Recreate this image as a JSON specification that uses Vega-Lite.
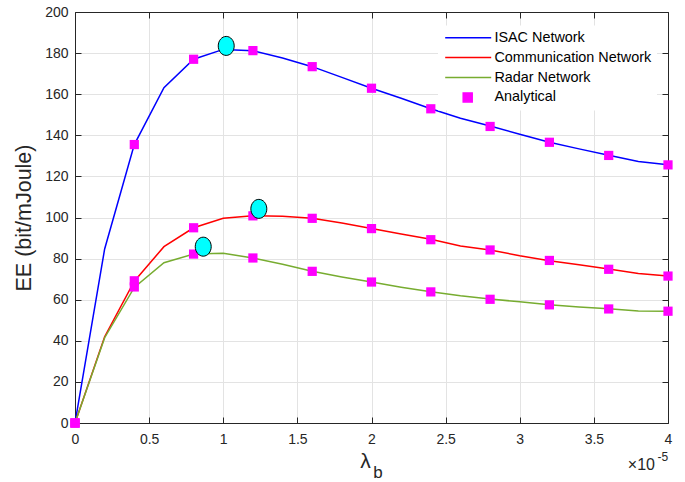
{
  "$schema": "https://vega.github.io/schema/vega-lite/v6.json",
  "width": 593,
  "height": 411,
  "autosize": "none",
  "padding": {"left": 75, "top": 12, "right": 17, "bottom": 59},
  "background": "white",
  "config": {
    "view": {"stroke": null},
    "font": "Liberation Sans",
    "axis": {
      "labelFont": "Liberation Sans",
      "titleFont": "Liberation Sans",
      "labelFontSize": 14,
      "labelColor": "#262626",
      "titleColor": "#262626",
      "domainColor": "#262626",
      "tickColor": "#262626",
      "gridColor": "#E3E3E3",
      "labelFlush": false,
      "labelFontWeight": "normal",
      "titleFontWeight": "normal"
    }
  },
  "datasets": {
    "lines": [
      {"x": 0, "y": 0, "series": "ISAC Network"},
      {"x": 0.2, "y": 84.7, "series": "ISAC Network"},
      {"x": 0.4, "y": 135.5, "series": "ISAC Network"},
      {"x": 0.6, "y": 163.2, "series": "ISAC Network"},
      {"x": 0.8, "y": 177, "series": "ISAC Network"},
      {"x": 1.0, "y": 181.8, "series": "ISAC Network"},
      {"x": 1.2, "y": 181.2, "series": "ISAC Network"},
      {"x": 1.4, "y": 177.6, "series": "ISAC Network"},
      {"x": 1.6, "y": 173.4, "series": "ISAC Network"},
      {"x": 1.8, "y": 168.2, "series": "ISAC Network"},
      {"x": 2.0, "y": 162.9, "series": "ISAC Network"},
      {"x": 2.2, "y": 158, "series": "ISAC Network"},
      {"x": 2.4, "y": 152.9, "series": "ISAC Network"},
      {"x": 2.6, "y": 148.3, "series": "ISAC Network"},
      {"x": 2.8, "y": 144.5, "series": "ISAC Network"},
      {"x": 3.0, "y": 140.5, "series": "ISAC Network"},
      {"x": 3.2, "y": 136.6, "series": "ISAC Network"},
      {"x": 3.4, "y": 133.4, "series": "ISAC Network"},
      {"x": 3.6, "y": 130.3, "series": "ISAC Network"},
      {"x": 3.8, "y": 127.2, "series": "ISAC Network"},
      {"x": 4.0, "y": 125.7, "series": "ISAC Network"},
      {"x": 0, "y": 0, "series": "Communication Network"},
      {"x": 0.2, "y": 42, "series": "Communication Network"},
      {"x": 0.4, "y": 69, "series": "Communication Network"},
      {"x": 0.6, "y": 85.8, "series": "Communication Network"},
      {"x": 0.8, "y": 95, "series": "Communication Network"},
      {"x": 1.0, "y": 99.6, "series": "Communication Network"},
      {"x": 1.2, "y": 100.9, "series": "Communication Network"},
      {"x": 1.4, "y": 100.6, "series": "Communication Network"},
      {"x": 1.6, "y": 99.6, "series": "Communication Network"},
      {"x": 1.8, "y": 97.3, "series": "Communication Network"},
      {"x": 2.0, "y": 94.6, "series": "Communication Network"},
      {"x": 2.2, "y": 92, "series": "Communication Network"},
      {"x": 2.4, "y": 89.4, "series": "Communication Network"},
      {"x": 2.6, "y": 86.1, "series": "Communication Network"},
      {"x": 2.8, "y": 84.2, "series": "Communication Network"},
      {"x": 3.0, "y": 81.4, "series": "Communication Network"},
      {"x": 3.2, "y": 79, "series": "Communication Network"},
      {"x": 3.4, "y": 77, "series": "Communication Network"},
      {"x": 3.6, "y": 74.9, "series": "Communication Network"},
      {"x": 3.8, "y": 72.8, "series": "Communication Network"},
      {"x": 4.0, "y": 71.5, "series": "Communication Network"},
      {"x": 0, "y": 0, "series": "Radar Network"},
      {"x": 0.2, "y": 41.5, "series": "Radar Network"},
      {"x": 0.4, "y": 66, "series": "Radar Network"},
      {"x": 0.6, "y": 78, "series": "Radar Network"},
      {"x": 0.8, "y": 82.2, "series": "Radar Network"},
      {"x": 1.0, "y": 82.6, "series": "Radar Network"},
      {"x": 1.2, "y": 80.3, "series": "Radar Network"},
      {"x": 1.4, "y": 77.2, "series": "Radar Network"},
      {"x": 1.6, "y": 73.8, "series": "Radar Network"},
      {"x": 1.8, "y": 71.1, "series": "Radar Network"},
      {"x": 2.0, "y": 68.6, "series": "Radar Network"},
      {"x": 2.2, "y": 66.1, "series": "Radar Network"},
      {"x": 2.4, "y": 63.9, "series": "Radar Network"},
      {"x": 2.6, "y": 61.9, "series": "Radar Network"},
      {"x": 2.8, "y": 60.3, "series": "Radar Network"},
      {"x": 3.0, "y": 59, "series": "Radar Network"},
      {"x": 3.2, "y": 57.6, "series": "Radar Network"},
      {"x": 3.4, "y": 56.5, "series": "Radar Network"},
      {"x": 3.6, "y": 55.6, "series": "Radar Network"},
      {"x": 3.8, "y": 54.5, "series": "Radar Network"},
      {"x": 4.0, "y": 54.4, "series": "Radar Network"}
    ],
    "analytical": [
      {"x": 0, "y": 0, "series": "Analytical"},
      {"x": 0.4, "y": 135.5, "series": "Analytical"},
      {"x": 0.8, "y": 177, "series": "Analytical"},
      {"x": 1.2, "y": 181.2, "series": "Analytical"},
      {"x": 1.6, "y": 173.4, "series": "Analytical"},
      {"x": 2.0, "y": 162.9, "series": "Analytical"},
      {"x": 2.4, "y": 152.9, "series": "Analytical"},
      {"x": 2.8, "y": 144.3, "series": "Analytical"},
      {"x": 3.2, "y": 136.6, "series": "Analytical"},
      {"x": 3.6, "y": 130.2, "series": "Analytical"},
      {"x": 4.0, "y": 125.6, "series": "Analytical"},
      {"x": 0, "y": 0, "series": "Analytical"},
      {"x": 0.4, "y": 69.2, "series": "Analytical"},
      {"x": 0.8, "y": 95, "series": "Analytical"},
      {"x": 1.2, "y": 100.8, "series": "Analytical"},
      {"x": 1.6, "y": 99.6, "series": "Analytical"},
      {"x": 2.0, "y": 94.6, "series": "Analytical"},
      {"x": 2.4, "y": 89.2, "series": "Analytical"},
      {"x": 2.8, "y": 84.2, "series": "Analytical"},
      {"x": 3.2, "y": 79.1, "series": "Analytical"},
      {"x": 3.6, "y": 74.8, "series": "Analytical"},
      {"x": 4.0, "y": 71.5, "series": "Analytical"},
      {"x": 0, "y": 0, "series": "Analytical"},
      {"x": 0.4, "y": 66.2, "series": "Analytical"},
      {"x": 0.8, "y": 82.2, "series": "Analytical"},
      {"x": 1.2, "y": 80.3, "series": "Analytical"},
      {"x": 1.6, "y": 73.8, "series": "Analytical"},
      {"x": 2.0, "y": 68.6, "series": "Analytical"},
      {"x": 2.4, "y": 63.8, "series": "Analytical"},
      {"x": 2.8, "y": 60.2, "series": "Analytical"},
      {"x": 3.2, "y": 57.5, "series": "Analytical"},
      {"x": 3.6, "y": 55.5, "series": "Analytical"},
      {"x": 4.0, "y": 54.4, "series": "Analytical"}
    ],
    "optima": [
      {"x": 1.02, "y": 183.5},
      {"x": 1.24, "y": 104.2},
      {"x": 0.865, "y": 85.8}
    ],
    "sub": [
      {"x": 2.044, "y": -24.3, "text": "b"}
    ],
    "times": [
      {"x": 3.912, "y": -20.3, "text": "×10"}
    ],
    "expo": [
      {"x": 3.965, "y": -16.5, "text": "-5"}
    ]
  },
  "resolve": {"axis": {"x": "independent", "y": "independent"}},
  "layer": [
    {
      "data": {"name": "lines"},
      "mark": {"type": "line", "strokeWidth": 1.5, "clip": true},
      "encoding": {
        "x": {
          "field": "x", "type": "quantitative",
          "scale": {"domain": [0, 4], "nice": false, "zero": false},
          "axis": {
            "title": "λ",
            "titleFontSize": 21,
            "titleX": 290,
            "titleY": 44,
            "titleAlign": "center",
            "titleBaseline": "alphabetic",
            "values": [0, 0.5, 1, 1.5, 2, 2.5, 3, 3.5, 4],
            "format": "~g",
            "grid": true,
            "tickSize": -6,
            "labelPadding": 15,
            "domainWidth": 1
          }
        },
        "y": {
          "field": "y", "type": "quantitative",
          "scale": {"domain": [0, 200], "nice": false},
          "axis": {
            "title": "EE (bit/mJoule)",
            "titleFontSize": 21.5,
            "titlePadding": 9,
            "values": [0, 20, 40, 60, 80, 100, 120, 140, 160, 180, 200],
            "grid": true,
            "tickSize": -6,
            "labelPadding": 13,
            "domainWidth": 1
          }
        },
        "color": {
          "field": "series", "type": "nominal",
          "scale": {
            "domain": ["ISAC Network", "Communication Network", "Radar Network", "Analytical"],
            "range": ["#0000FF", "#FF0000", "#77AC30", "#FF00FF"]
          },
          "legend": {
            "title": null,
            "orient": "none",
            "legendX": 363,
            "legendY": 13.5,
            "fillColor": "white",
            "strokeColor": null,
            "padding": 5,
            "labelFont": "Liberation Sans",
            "labelFontSize": 14.4,
            "labelColor": "#000000",
            "symbolSize": 100,
            "symbolStrokeWidth": 1.5,
            "labelOffset": 37,
            "rowPadding": 4.9,
            "encode": {
              "symbols": {
                "update": {
                  "shape": {"signal": "datum.value === 'Analytical' ? 'M2.6,-0.9H4.4V0.9H2.6Z' : 'M-1,0H8.2'"},
                  "size": {"value": 100},
                  "fill": {"signal": "datum.value === 'Analytical' ? '#FF00FF' : 'transparent'"},
                  "stroke": {"signal": "datum.value === 'Analytical' ? 'transparent' : scale('color', datum.value)"},
                  "strokeWidth": {"value": 1.5},
                  "opacity": {"value": 1}
                }
              }
            }
          }
        }
      }
    },
    {
      "data": {"name": "analytical"},
      "mark": {"type": "square", "size": 85, "filled": true, "opacity": 1},
      "encoding": {
        "x": {"field": "x", "type": "quantitative", "axis": null},
        "y": {"field": "y", "type": "quantitative", "axis": null},
        "color": {"field": "series", "type": "nominal"}
      }
    },
    {
      "data": {"name": "optima"},
      "mark": {"type": "point", "shape": "M-0.84,0A0.84,1 0 1,0 0.84,0A0.84,1 0 1,0 -0.84,0Z", "size": 361, "filled": true, "fill": "#00FFFF", "stroke": "#000000", "strokeWidth": 1, "opacity": 1},
      "encoding": {
        "x": {"field": "x", "type": "quantitative", "axis": null},
        "y": {"field": "y", "type": "quantitative", "axis": null}
      }
    },
    {
      "data": {"name": "lines"},
      "mark": {"type": "point", "opacity": 0},
      "encoding": {
        "x": {
          "field": "x", "type": "quantitative",
          "axis": {"orient": "top", "title": null, "labels": false, "grid": false, "tickSize": -6, "values": [0, 0.5, 1, 1.5, 2, 2.5, 3, 3.5, 4]}
        },
        "y": {
          "field": "y", "type": "quantitative",
          "axis": {"orient": "right", "title": null, "labels": false, "grid": false, "tickSize": -6, "values": [0, 20, 40, 60, 80, 100, 120, 140, 160, 180, 200]}
        }
      }
    },
    {
      "data": {"name": "sub"},
      "mark": {"type": "text", "font": "Liberation Sans", "fontSize": 17, "color": "#262626", "baseline": "middle", "align": "center", "clip": false},
      "encoding": {
        "x": {"field": "x", "type": "quantitative", "axis": null},
        "y": {"field": "y", "type": "quantitative", "axis": null},
        "text": {"field": "text"}
      }
    },
    {
      "data": {"name": "times"},
      "mark": {"type": "text", "font": "Liberation Sans", "fontSize": 16, "color": "#262626", "baseline": "middle", "align": "right", "clip": false},
      "encoding": {
        "x": {"field": "x", "type": "quantitative", "axis": null},
        "y": {"field": "y", "type": "quantitative", "axis": null},
        "text": {"field": "text"}
      }
    },
    {
      "data": {"name": "expo"},
      "mark": {"type": "text", "font": "Liberation Sans", "fontSize": 12, "color": "#262626", "baseline": "middle", "align": "center", "clip": false},
      "encoding": {
        "x": {"field": "x", "type": "quantitative", "axis": null},
        "y": {"field": "y", "type": "quantitative", "axis": null},
        "text": {"field": "text"}
      }
    }
  ]
}
